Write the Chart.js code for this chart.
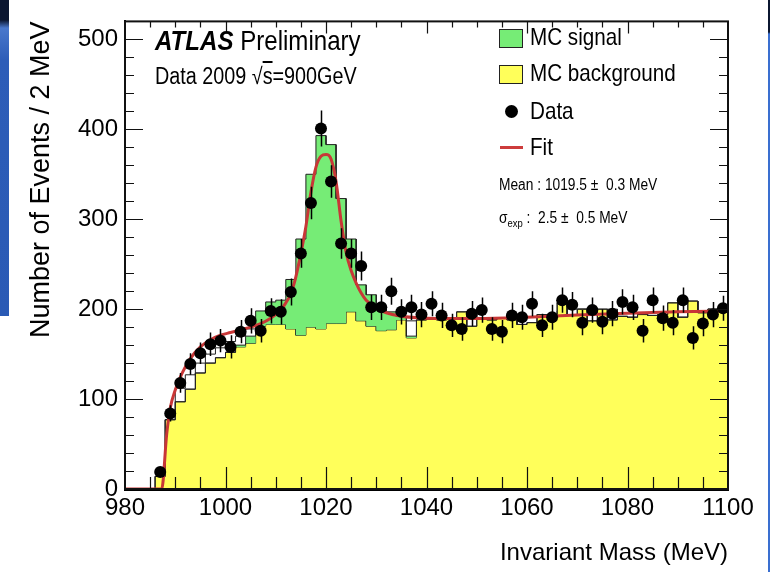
<!DOCTYPE html>
<html>
<head>
<meta charset="utf-8">
<script src="https://cdn.jsdelivr.net/npm/chart.js@4.4.1/dist/chart.umd.min.js"></script>
<style>
  html, body { margin: 0; padding: 0; background: #fff; }
  #wrap { position: relative; width: 770px; height: 572px; overflow: hidden;
          font-family: 'Liberation Sans', Arial, sans-serif; }
  #massChart { position: absolute; left: 0; top: 0; }
  .txt { position: absolute; white-space: nowrap; line-height: 1; color: #000;
         transform: scaleX(0.86); transform-origin: left center; }
  .box { position: absolute; border: 1.5px solid #222; box-sizing: border-box; }
  .edge { position: absolute; }
</style>
</head>
<body>
<div id="wrap">
  <canvas id="massChart" width="770" height="572"></canvas>

  <div class="edge" style="left:0;top:0;width:9px;height:316px;background:linear-gradient(to bottom,#0b1630 0,#0b1630 20px,#4a78cc 28px,#2d5db8 60px,#2a5ab5 100%);"></div>
  <div class="edge" style="left:768px;top:0;width:2px;height:572px;background:linear-gradient(to bottom,#0b1630 0,#0b1630 32px,#3a6fd0 34px,#3a6fd0 100%);"></div>

  <div class="txt" style="left:155px;top:27px;font-size:28px;"><b><i>ATLAS</i></b> Preliminary</div>
  <div class="txt" style="left:155px;top:65px;font-size:23px;">Data 2009 &radic;<span style="text-decoration:overline">s</span>=900GeV</div>

  <div class="box" style="left:499px;top:29px;width:24px;height:19px;background:rgb(118,236,118);"></div>
  <div class="txt" style="left:530px;top:25px;font-size:24px;">MC signal</div>
  <div class="box" style="left:499px;top:65px;width:24px;height:19px;background:rgb(255,255,90);"></div>
  <div class="txt" style="left:530px;top:61px;font-size:24px;">MC background</div>
  <div class="edge" style="left:505px;top:105px;width:13px;height:13px;border-radius:50%;background:#000;"></div>
  <div class="txt" style="left:530px;top:99px;font-size:24px;">Data</div>
  <div class="edge" style="left:500px;top:146px;width:23px;height:3px;background:rgb(205,60,60);"></div>
  <div class="txt" style="left:530px;top:135px;font-size:24px;">Fit</div>

  <div class="txt" style="left:499px;top:177px;font-size:16px;">Mean : 1019.5 &plusmn;&nbsp; 0.3 MeV</div>
  <div class="txt" style="left:499px;top:210px;font-size:16px;">&sigma;<sub style="font-size:11px;">exp</sub> :&nbsp; 2.5 &plusmn;&nbsp; 0.5 MeV</div>
</div>

<script>
// bin centres (MeV), 2 MeV bins from 980 to 1100
const binCenters = [
  981, 983, 985, 987, 989, 991, 993, 995, 997, 999,
  1001, 1003, 1005, 1007, 1009, 1011, 1013, 1015, 1017, 1019,
  1021, 1023, 1025, 1027, 1029, 1031, 1033, 1035, 1037, 1039,
  1041, 1043, 1045, 1047, 1049, 1051, 1053, 1055, 1057, 1059,
  1061, 1063, 1065, 1067, 1069, 1071, 1073, 1075, 1077, 1079,
  1081, 1083, 1085, 1087, 1089, 1091, 1093, 1095, 1097, 1099
];
const binWidth = 2;

// MC background (yellow)
const mcBackground = [
  0, 0, 0, 14, 77, 97, 111, 129, 140, 146,
  152, 158, 162, 181, 183, 183, 178, 171, 180, 178,
  184, 184, 197, 187, 181, 176, 177, 188, 168, 188,
  189, 188, 190, 197, 181, 189, 188, 190, 188, 183,
  185, 194, 192, 207, 194, 200, 187, 200, 188, 192,
  191, 194, 193, 194, 207, 191, 209, 196, 200, 199
];

// MC signal (green, stacked on background)
const mcSignal = [
  0, 0, 0, 0, 0, 0, 0, 0, 0, 0,
  0, 2, 8, 17, 25, 27, 55, 107, 170, 215,
  199, 139, 81, 40, 35, 24, 20, 4, 2, 0,
  0, 0, 0, 0, 0, 0, 0, 0, 0, 0,
  0, 0, 0, 0, 0, 0, 0, 0, 0, 0,
  0, 0, 0, 0, 0, 0, 0, 0, 0, 0
];

// MC total outline (white histogram behind)
const mcTotal = [
  0, 0, 0, 14, 77, 112, 127, 140, 150, 157,
  164, 170, 178, 183, 183, 183, 178, 171, 180, 178,
  184, 184, 197, 187, 181, 176, 177, 188, 187, 188,
  189, 188, 190, 190, 197, 189, 188, 190, 193, 183,
  185, 194, 192, 198, 200, 200, 198, 193, 200, 192,
  191, 194, 193, 194, 199, 191, 198, 196, 200, 199
];

// data counts and errors
const dataCounts = [
  null, null, null, 19, 84, 118, 139, 151, 161, 165,
  158, 175, 187, 176, 198, 197, 219, 262, 318, 401,
  342, 273, 262, 248, 202, 202, 220, 197, 202, 194,
  206, 193, 182, 178, 195, 199, 178, 175, 193, 191,
  206, 182, 191, 210, 205, 185, 199, 186, 195, 208,
  202, 176, 210, 190, 185, 210, 168, 184, 194, 201
];
const dataErrors = [
  0, 0, 0, 4, 9, 11, 12, 12, 13, 13,
  13, 13, 14, 13, 14, 14, 15, 16, 18, 20,
  18, 17, 16, 16, 14, 14, 15, 14, 14, 14,
  14, 14, 13, 13, 14, 14, 13, 13, 14, 14,
  14, 13, 14, 14, 14, 14, 14, 14, 14, 14,
  14, 13, 14, 14, 14, 14, 13, 14, 14, 14
];

// fit curve
const fitMass = [
  980, 987.3, 988.3, 989, 990, 991.3, 993, 995, 997, 999,
  1001, 1003, 1005, 1007, 1009, 1011, 1012, 1013, 1014, 1015,
  1016, 1017, 1018, 1019, 1020, 1021, 1022, 1023, 1024, 1025,
  1026, 1027, 1028, 1030, 1032, 1035, 1040, 1050, 1060, 1070,
  1080, 1090, 1100
];
const fitValue = [
  0, 0, 61, 90, 110, 128, 145, 158, 166, 171,
  174, 177, 180, 184, 190, 199, 207, 217, 236, 262,
  292, 330, 358, 370, 372, 367, 342, 298, 263, 243,
  229, 218, 210, 201, 196, 192, 190, 189.5, 191, 193.5,
  195.5, 197, 198
];

const xMin = 980, xMax = 1100, xMajor = 20, xMinor = 5;
const yMin = 0, yMax = 520, yMajor = 100, yMinor = 20;
const yTickLabels = [0, 100, 200, 300, 400, 500];

const axisFont = "'Liberation Sans', Arial, sans-serif";

function histPoints(values) {
    const pts = [];
    binCenters.forEach((c, i) => {
        pts.push({ x: c - binWidth / 2, y: values[i] });
        pts.push({ x: c + binWidth / 2, y: values[i] });
    });
    return pts;
}

const signalTop = mcBackground.map((b, i) => b + mcSignal[i]);

const innerTicks = {
    id: 'innerTicks',
    afterDraw(chart) {
        const { ctx, chartArea: a, scales: { x, y } } = chart;
        ctx.save();
        ctx.strokeStyle = '#111';
        ctx.lineWidth = 1.2;
        ctx.beginPath();
        for (let v = yMin + yMinor; v <= yMax; v += yMinor) {
            const py = Math.round(y.getPixelForValue(v)) + 0.5;
            const len = v % yMajor === 0 ? 18 : 9;
            ctx.moveTo(a.left, py); ctx.lineTo(a.left + len, py);
            ctx.moveTo(a.right, py); ctx.lineTo(a.right - len, py);
        }
        for (let m = xMin + xMinor; m < xMax; m += xMinor) {
            const px = Math.round(x.getPixelForValue(m)) + 0.5;
            const major = m % xMajor === 0;
            ctx.moveTo(px, a.bottom); ctx.lineTo(px, a.bottom - (major ? 22 : 12));
            ctx.moveTo(px, a.top); ctx.lineTo(px, a.top + (major ? 12 : 6));
        }
        ctx.stroke();
        ctx.lineWidth = 2;
        ctx.strokeRect(a.left, a.top, a.right - a.left, a.bottom - a.top);
        ctx.restore();
    }
};

const errorBars = {
    id: 'errorBars',
    afterDatasetsDraw(chart) {
        const { ctx, scales: { x, y } } = chart;
        ctx.save();
        ctx.strokeStyle = '#000';
        ctx.lineWidth = 1.5;
        ctx.beginPath();
        binCenters.forEach((c, i) => {
            if (dataCounts[i] === null) return;
            const px = Math.round(x.getPixelForValue(c)) + 0.5;
            ctx.moveTo(px, y.getPixelForValue(dataCounts[i] + dataErrors[i]));
            ctx.lineTo(px, y.getPixelForValue(dataCounts[i] - dataErrors[i]));
        });
        ctx.stroke();
        ctx.restore();
    }
};

function renderChart() {
    const ctx = document.getElementById('massChart').getContext('2d');

    new Chart(ctx, {
        type: 'line',
        data: {
            datasets: [
                {
                    label: 'Data',
                    data: binCenters.map((c, i) => ({ x: c, y: dataCounts[i] })),
                    showLine: false,
                    pointRadius: 6,
                    pointBackgroundColor: '#000',
                    pointBorderColor: '#000',
                    pointBorderWidth: 0
                },
                {
                    label: 'Fit',
                    data: fitMass.map((m, i) => ({ x: m, y: fitValue[i] })),
                    borderColor: 'rgb(200,55,55)',
                    borderWidth: 3,
                    pointRadius: 0,
                    cubicInterpolationMode: 'monotone',
                    fill: false
                },
                {
                    label: 'MC signal',
                    data: histPoints(signalTop),
                    borderColor: '#222',
                    borderWidth: 1,
                    backgroundColor: 'rgb(118,236,118)',
                    pointRadius: 0,
                    fill: 3
                },
                {
                    label: 'MC background',
                    data: histPoints(mcBackground),
                    borderColor: '#222',
                    borderWidth: 1,
                    backgroundColor: 'rgb(255,255,90)',
                    pointRadius: 0,
                    fill: 'origin'
                },
                {
                    label: 'MC total',
                    data: histPoints(mcTotal),
                    borderColor: '#222',
                    borderWidth: 1,
                    backgroundColor: '#fff',
                    pointRadius: 0,
                    fill: 'origin'
                }
            ]
        },
        options: {
            responsive: false,
            animation: false,
            events: [],
            layout: { padding: { top: 10, right: 42, left: 0, bottom: 0 } },
            plugins: {
                legend: { display: false },
                tooltip: { enabled: false }
            },
            scales: {
                x: {
                    type: 'linear',
                    min: xMin,
                    max: xMax,
                    afterFit: s => { s.height = 83; },
                    ticks: {
                        stepSize: xMajor,
                        padding: 5,
                        color: '#000',
                        format: { useGrouping: false },
                        font: { family: axisFont, size: 24 },
                        maxRotation: 0
                    },
                    grid: { drawOnChartArea: false, drawTicks: false },
                    border: { display: true, width: 3, color: '#000' },
                    title: {
                        display: true,
                        text: 'Invariant Mass (MeV)',
                        align: 'end',
                        color: '#000',
                        font: { family: axisFont, size: 24 },
                        padding: { top: 0, bottom: 4 }
                    }
                },
                y: {
                    min: yMin,
                    max: yMax,
                    afterFit: s => { s.width = 125; },
                    afterBuildTicks: s => { s.ticks = yTickLabels.map(v => ({ value: v })); },
                    ticks: {
                        padding: 7,
                        color: '#000',
                        format: { useGrouping: false },
                        font: { family: axisFont, size: 24 }
                    },
                    grid: { drawOnChartArea: false, drawTicks: false },
                    border: { display: true, width: 2, color: '#000' },
                    title: {
                        display: true,
                        text: 'Number of Events / 2 MeV',
                        align: 'end',
                        color: '#000',
                        font: { family: axisFont, size: 27 },
                        padding: { top: 25, bottom: 0 }
                    }
                }
            }
        },
        plugins: [innerTicks, errorBars]
    });
}

document.addEventListener('DOMContentLoaded', () => {
    renderChart();
});
</script>
</body>
</html>
